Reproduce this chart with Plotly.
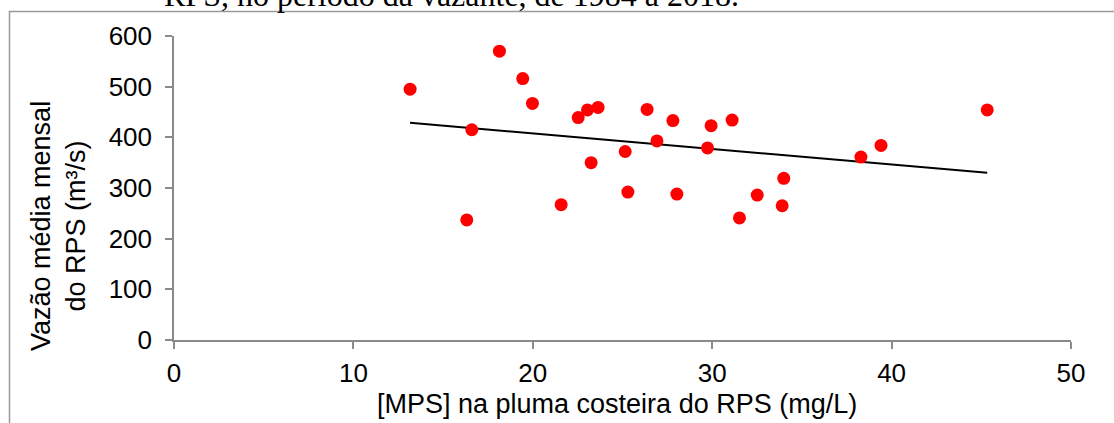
import numpy as np
import plotly.graph_objects as go

# [MPS] in the coastal plume (mg/L) and mean monthly discharge (m³/s)
mps = [13.16, 16.60, 16.32, 18.14, 19.44, 19.98, 21.58, 22.53, 23.05, 23.25,
       23.64, 25.15, 25.30, 26.37, 26.92, 27.81, 28.03, 29.74, 29.94, 31.11,
       31.52, 32.51, 33.90, 33.99, 38.29, 39.41, 45.33]
vazao = [495, 415, 237, 570, 516, 467, 267, 439, 454, 350,
         459, 372, 292, 455, 393, 433, 288, 379, 423, 434,
         241, 286, 265, 319, 361, 384, 454]

x_ticks = [0, 10, 20, 30, 40, 50]
y_ticks = [0, 100, 200, 300, 400, 500, 600]

caption = "RPS, no período da vazante, de 1984 a 2018."
x_title = "[MPS] na pluma costeira do RPS (mg/L)"
y_title = "Vazão média mensal<br>do RPS (m³/s)"

# linear least-squares trend over the observed range
slope, intercept = np.polyfit(mps, vazao, 1)
trend_x = [min(mps), max(mps)]
trend_y = [slope * v + intercept for v in trend_x]

W, H = 1114, 423
L, R, T, B = 174, 43, 36, 83
pw, ph = W - L - R, H - T - B


def px_to_paper_x(px):
    return (px - L) / pw


def px_to_paper_y(py):
    return (H - B - py) / ph


fig = go.Figure()
fig.add_trace(go.Scatter(
    x=trend_x, y=trend_y, mode="lines",
    line=dict(color="black", width=2), hoverinfo="skip", showlegend=False,
))
fig.add_trace(go.Scatter(
    x=mps, y=vazao, mode="markers",
    marker=dict(color="#ff0000", size=13, line=dict(width=0)),
    showlegend=False,
))

axis_common = dict(
    showgrid=False, zeroline=False, showline=True,
    linecolor="#8a8a8a", linewidth=1.5,
    ticks="outside", tickcolor="#8a8a8a", tickwidth=1.5, ticklen=7,
    tickfont=dict(family="Liberation Sans, Arial", size=26, color="black"),
    tickmode="array",
)

fig.update_xaxes(range=[0, 50], tickvals=x_ticks, ticktext=[str(v) for v in x_ticks],
                 ticklabelstandoff=2, **axis_common)
fig.update_yaxes(range=[0, 600], tickvals=y_ticks, ticktext=[str(v) for v in y_ticks],
                 ticklabelstandoff=8, **axis_common)

fig.update_layout(
    width=W, height=H,
    margin=dict(l=L, r=R, t=T, b=B, pad=0),
    paper_bgcolor="white", plot_bgcolor="white",
    font=dict(family="Liberation Sans, Arial", color="black"),
    shapes=[
        # outer frame of the chart object
        dict(type="rect", xref="paper", yref="paper",
             x0=px_to_paper_x(9.5), x1=px_to_paper_x(1200),
             y0=px_to_paper_y(500), y1=px_to_paper_y(11.5),
             line=dict(color="#9a9a9a", width=1.5), fillcolor="rgba(0,0,0,0)",
             layer="below"),
    ],
    annotations=[
        dict(text=x_title, xref="paper", yref="paper",
             x=px_to_paper_x(617), y=px_to_paper_y(404),
             xanchor="center", yanchor="middle", showarrow=False,
             font=dict(family="Liberation Sans, Arial", size=27, color="black")),
        dict(text=y_title, xref="paper", yref="paper",
             x=px_to_paper_x(58), y=px_to_paper_y(226),
             xanchor="center", yanchor="middle", showarrow=False, textangle=-90,
             font=dict(family="Liberation Sans, Arial", size=27, color="black")),
        dict(text=caption, xref="paper", yref="paper",
             x=px_to_paper_x(162), y=px_to_paper_y(-5),
             xanchor="left", yanchor="middle", showarrow=False,
             font=dict(family="Liberation Serif, Times New Roman", size=32, color="black")),
    ],
)

fig.write_html("out.html")
